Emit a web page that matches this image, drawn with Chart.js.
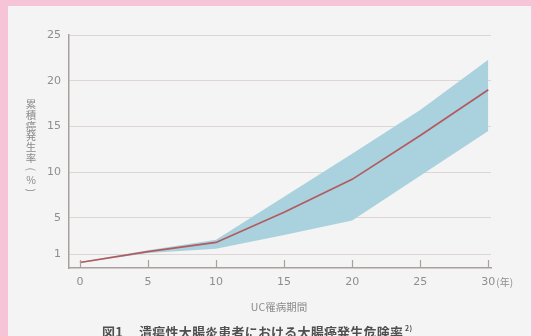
<!DOCTYPE html>
<html><head><meta charset="utf-8">
<script src="https://cdn.jsdelivr.net/npm/chart.js@4"></script>
<style>
html,body{margin:0;padding:0;}
#wrap{position:relative;width:533px;height:336px;background:#f7c4d7;overflow:hidden;}
#panel{position:absolute;left:8px;top:6px;width:523px;height:330px;background:#f3f4f3;}
#c{position:absolute;left:0;top:0;}
#ylab{position:absolute;left:24px;top:99px;width:14px;display:flex;flex-direction:column;align-items:center;font-family:"Noto Sans CJK JP";font-size:10.5px;line-height:10.8px;color:#8a8a8a;}
#ylab span{display:block;height:10.8px;}
#ylab span.rot{transform:rotate(90deg);}
#xlab{position:absolute;left:0;width:558px;top:299px;text-align:center;font-family:"Noto Sans CJK JP";font-size:10.5px;color:#8a8a8a;}
#cap{position:absolute;left:102px;top:322px;font-family:"Noto Sans CJK JP";font-weight:bold;font-size:13px;letter-spacing:0.2px;color:#505050;white-space:nowrap;}
#cap sup{font-size:7px;vertical-align:6px;margin-left:2px;}
</style></head>
<body>
<div id="wrap">
<div id="panel"></div>
<canvas id="c" width="533" height="336"></canvas>
<div id="ylab"><span>累</span><span>積</span><span>癌</span><span>発</span><span>生</span><span>率</span><span class="rot">(</span><span>%</span><span class="rot">)</span></div>
<div id="xlab">UC罹病期間</div>
<div id="cap"><span>図1</span><span style="margin-left:16px">潰瘍性大腸炎患者における大腸癌発生危険率</span><sup>2)</sup></div>
</div>
<script>
// Data
const years     = [0, 5, 10, 15, 20, 25, 30];
const incidence = [0.1, 1.3, 2.3, 5.6, 9.2, 14.0, 19.0];
const upperCI   = [0.15, 1.45, 2.6, 7.3, 12.0, 16.8, 22.3];
const lowerCI   = [0.05, 1.15, 1.6, 3.1, 4.7, 9.6, 14.5];
const xTicks    = [0, 5, 10, 15, 20, 25, 30];
const yTicks    = [1, 5, 10, 15, 20, 25];
const xUnit     = '(年)';

const AXIS = '#a7a09e', GRID = '#ddd6d4', TICK = '#8e8e8e';
const pts = arr => years.map((x, i) => ({x, y: arr[i]}));

const inwardTicks = {
  id: 'inwardTicks',
  afterDraw(chart) {
    const xs = chart.scales.x, ctx = chart.ctx, b = chart.chartArea.bottom;
    ctx.save();
    ctx.strokeStyle = AXIS; ctx.lineWidth = 1.2;
    xs.ticks.forEach(t => {
      const px = Math.round(xs.getPixelForValue(t.value)) + 0.5;
      ctx.beginPath(); ctx.moveTo(px, b); ctx.lineTo(px, b - 8); ctx.stroke();
    });
    const last = xTicks[xTicks.length - 1];
    const px = xs.getPixelForValue(last);
    ctx.font = '11px "DejaVu Sans"';
    const w = ctx.measureText(String(last)).width;
    ctx.font = '10px "Noto Sans CJK JP"';
    ctx.fillStyle = TICK; ctx.textBaseline = 'middle'; ctx.textAlign = 'left';
    ctx.fillText(xUnit, px + w / 2 + 1, b + 8 + 6.5);
    ctx.restore();
  }
};

new Chart(document.getElementById('c'), {
  type: 'line',
  data: {
    datasets: [
      {data: pts(incidence), borderColor: '#b35a5f', borderWidth: 1.7, pointRadius: 0, fill: false, tension: 0},
      {data: pts(lowerCI), borderWidth: 0, borderColor: 'rgba(0,0,0,0)', pointRadius: 0, fill: false},
      {data: pts(upperCI), borderWidth: 0, borderColor: 'rgba(0,0,0,0)', pointRadius: 0, fill: '-1', backgroundColor: '#a9d2de'}
    ]
  },
  options: {
    responsive: false, animation: false, devicePixelRatio: 1,
    layout: {padding: {top: 35, right: 42, left: 0, bottom: 0}},
    plugins: {legend: {display: false}, tooltip: {enabled: false}},
    scales: {
      x: {
        type: 'linear', min: -0.8, max: 30.2,
        afterBuildTicks: s => { s.ticks = xTicks.map(v => ({value: v})); },
        afterFit: s => { s.height = 68; },
        grid: {display: false, drawTicks: false},
        border: {display: true, color: AXIS, width: 1.5},
        ticks: {padding: 8, color: TICK, font: {family: 'DejaVu Sans', size: 11}, maxRotation: 0, autoSkip: false}
      },
      y: {
        type: 'linear', min: -0.5, max: 25,
        afterBuildTicks: s => { s.ticks = yTicks.map(v => ({value: v})); },
        afterFit: s => { s.width = 69; },
        grid: {color: GRID, lineWidth: 1, drawTicks: false},
        border: {display: true, color: AXIS, width: 1.5},
        ticks: {padding: 8, color: TICK, font: {family: 'DejaVu Sans', size: 11}, autoSkip: false}
      }
    }
  },
  plugins: [inwardTicks]
});
</script>
</body></html>
